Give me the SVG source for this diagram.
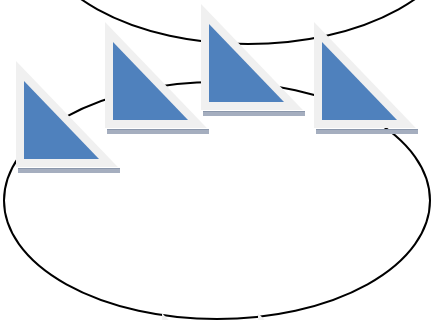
<svg xmlns="http://www.w3.org/2000/svg" xmlns:xlink="http://www.w3.org/1999/xlink" width="432" height="320" viewBox="0 0 432 320">
  <style>
    .ring { fill: none; stroke: #000; stroke-width: 2; }
    .frame { fill: #f0f0f0; }
    .face { fill: #4f81bd; }
    .shadow { fill: #a5aebf; }
    .shadowline { fill: #8b97ab; }
  </style>
  <defs>
    <g id="tri">
      <rect class="shadow" x="-6" y="87" width="102" height="5"/>
      <rect class="shadowline" x="-6" y="87" width="102" height="1"/>
      <path class="frame" d="M-8,-19.9 L-8,86 L93.8,86 Z"/>
      <path class="face" d="M0,0 L0,78 L75,78 Z"/>
    </g>
  </defs>
  <rect width="432" height="320" fill="#fff"/>
  <g id="connectors">
    <ellipse class="ring" cx="248" cy="-74.5" rx="213" ry="118.5"/>
    <ellipse class="ring" cx="217" cy="200.5" rx="213" ry="118.5"/>
  </g>
  <g id="node1" transform="translate(24,81)"><use xlink:href="#tri" href="#tri"/></g>
  <g id="node2" transform="translate(113,42)"><use xlink:href="#tri" href="#tri"/></g>
  <g id="node3" transform="translate(209,24)"><use xlink:href="#tri" href="#tri"/></g>
  <g id="node4" transform="translate(322,42)"><use xlink:href="#tri" href="#tri"/></g>
  <g id="node5" transform="translate(170,333)"><use xlink:href="#tri" href="#tri"/></g>
  <g id="node6" transform="translate(266,333)"><use xlink:href="#tri" href="#tri"/></g>
</svg>
